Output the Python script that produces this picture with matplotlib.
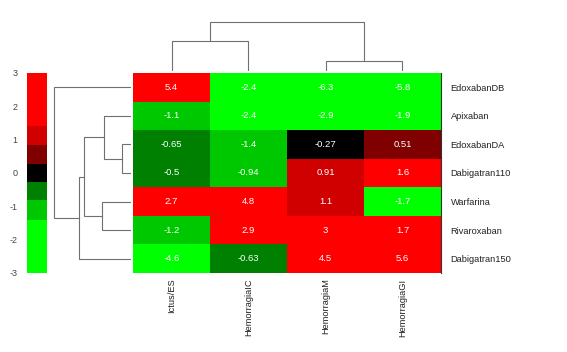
import numpy as np
import matplotlib
matplotlib.use("Agg")
import matplotlib.pyplot as plt
from matplotlib.colors import ListedColormap, BoundaryNorm

plt.rcParams['font.family'] = ['Liberation Sans', 'DejaVu Sans']

# ---- data ----
rows = ["EdoxabanDB", "Apixaban", "EdoxabanDA", "Dabigatran110",
        "Warfarina", "Rivaroxaban", "Dabigatran150"]
cols = ["Ictus/ES", "HemorragiaIC", "HemorragiaM", "HemorragiaGI"]
ictus = [5.4, -1.1, -0.65, -0.5, 2.7, -1.2, -4.6]
hem_ic = [-2.4, -2.4, -1.4, -0.94, 4.8, 2.9, -0.63]
hem_m = [-6.3, -2.9, -0.27, 0.91, 1.1, 3, 4.5]
hem_gi = [-5.8, -1.9, 0.51, 1.6, -1.7, 1.7, 5.6]
value_labels = [["5.4", "-2.4", "-6.3", "-5.8"],
                ["-1.1", "-2.4", "-2.9", "-1.9"],
                ["-0.65", "-1.4", "-0.27", "0.51"],
                ["-0.5", "-0.94", "0.91", "1.6"],
                ["2.7", "4.8", "1.1", "-1.7"],
                ["-1.2", "2.9", "3", "1.7"],
                ["-4.6", "-0.63", "4.5", "5.6"]]
# dendrogram merges: (child a, child b, height); leaves 0..n-1 in display order
row_merges = [(2, 3, 9.3), (4, 5, 29.3), (1, 7, 26.7), (9, 8, 47.3),
              (6, 10, 51.7), (0, 11, 76.7)]
col_merges = [(2, 3, 10.4), (0, 1, 29.7), (5, 4, 49.4)]
# colour scale
scale_bounds = [-3, -1.42, -0.825, -0.275, 0.275, 0.825, 1.42, 3]
scale_colors = ["#00FF00", "#00C800", "#008000", "#000000",
                "#800000", "#D00000", "#FF0000"]
scale_ticks = [-3, -2, -1, 0, 1, 2, 3]

data = np.array([ictus, hem_ic, hem_m, hem_gi]).T
cmap = ListedColormap(scale_colors)
norm = BoundaryNorm(scale_bounds, cmap.N, clip=True)

W, H = 567, 352
fig = plt.figure(figsize=(W / 100, H / 100), dpi=100)

def px_axes(x0, y0, x1, y1):
    return fig.add_axes([x0 / W, 1 - y1 / H, (x1 - x0) / W, (y1 - y0) / H])

LINE = "#707070"

# ---- heatmap ----
ax = px_axes(133, 73, 441, 273)
nr, nc = data.shape
ax.pcolormesh(np.arange(nc + 1), np.arange(nr + 1), data, cmap=cmap, norm=norm)
ax.set_xlim(0, nc)
ax.set_ylim(nr, 0)
for i in range(nr):
    for j in range(nc):
        ax.text(j + 0.5, i + 0.5, value_labels[i][j], ha="center", va="center",
                color="white", fontsize=6.8)
ax.yaxis.tick_right()
ax.set_yticks(np.arange(nr) + 0.5)
ax.set_yticklabels(rows, fontsize=6.7, color="#222222")
ax.tick_params(axis="y", length=0, pad=7)
ax.set_xticks(np.arange(nc) + 0.5)
ax.set_xticklabels(cols, rotation=90, fontsize=6.7, color="#222222")
ax.tick_params(axis="x", length=0, pad=4)
for s in ["top", "left", "bottom"]:
    ax.spines[s].set_visible(False)
ax.spines["right"].set_color("#333333")
ax.spines["right"].set_linewidth(0.8)

# ---- dendrogram helper ----
def draw_dendro(a, merges, n, orient):
    pos = {i: i + 0.5 for i in range(n)}
    hgt = {i: 0.0 for i in range(n)}
    for k, (c1, c2, h) in enumerate(merges):
        p1, p2 = pos[c1], pos[c2]
        h1, h2 = hgt[c1], hgt[c2]
        if orient == "row":
            a.plot([h1, h, h, h2], [p1, p1, p2, p2], color=LINE, lw=0.8,
                   solid_joinstyle="miter")
        else:
            a.plot([p1, p1, p2, p2], [h1, h, h, h2], color=LINE, lw=0.8,
                   solid_joinstyle="miter")
        pos[n + k] = (p1 + p2) / 2
        hgt[n + k] = h
    a.axis("off")

axr = px_axes(44, 73, 131, 273)
draw_dendro(axr, row_merges, nr, "row")
axr.set_xlim(87, 0)
axr.set_ylim(nr, 0)

axc = px_axes(133, 20, 441, 71)
draw_dendro(axc, col_merges, nc, "col")
axc.set_xlim(0, nc)
axc.set_ylim(0, 51)

# ---- colour key ----
axk = px_axes(27, 73, 47, 273)
yb = np.array(scale_bounds)
mids = (yb[:-1] + yb[1:]) / 2
axk.pcolormesh([0, 1], yb, mids.reshape(-1, 1), cmap=cmap, norm=norm)
axk.set_ylim(-3, 3)
axk.set_xlim(0, 1)
axk.set_xticks([])
axk.set_yticks(scale_ticks)
axk.set_yticklabels([str(t) for t in scale_ticks], fontsize=6.5, color="#444444")
axk.tick_params(axis="y", length=0, pad=7)
for s in axk.spines.values():
    s.set_visible(False)

fig.savefig("out.png", dpi=100, facecolor="white")
